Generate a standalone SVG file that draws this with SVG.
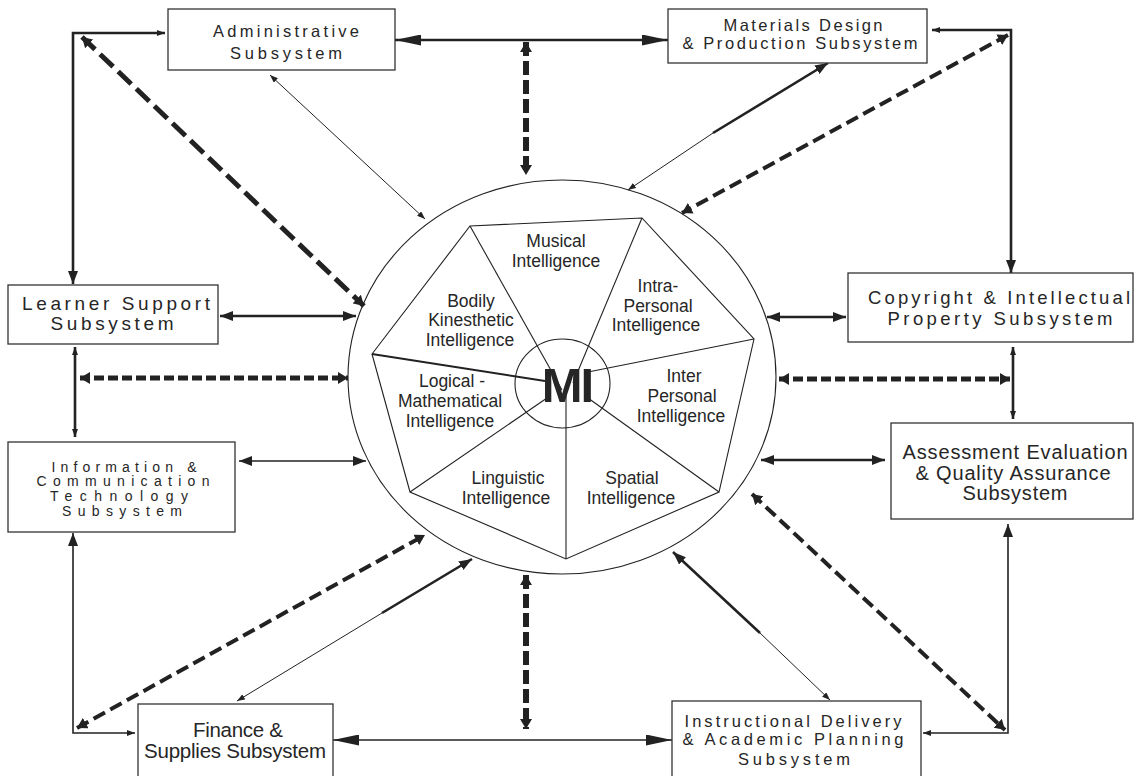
<svg xmlns="http://www.w3.org/2000/svg" width="1136" height="776" viewBox="0 0 1136 776">
<style>
text{font-family:"Liberation Sans",Arial,sans-serif;fill:#262626;}
.box{fill:#fff;stroke:#333;stroke-width:1.3;}
.lbl{font-size:17.5px;text-anchor:middle;}
.bt{text-anchor:middle;}
.c{fill:none;stroke:#222;}
.thin{stroke-width:1;}
.mid{stroke-width:1.6;}
.thk{stroke-width:2.6;}
.dA{stroke-width:5;stroke-dasharray:18 7;}
.dV{stroke-width:6;stroke-dasharray:14 5;}
.dH{stroke-width:5;stroke-dasharray:10 4;}
.dD{stroke-width:4;stroke-dasharray:13 6;}
</style>
<defs>
<marker id="big" markerUnits="userSpaceOnUse" markerWidth="26" markerHeight="11" viewBox="0 0 26 11" refX="26" refY="5.5" orient="auto-start-reverse"><path d="M0,0 L26,5.5 L0,11 z" fill="#222"/></marker>
<marker id="med" markerUnits="userSpaceOnUse" markerWidth="13" markerHeight="10" viewBox="0 0 13 10" refX="13" refY="5" orient="auto-start-reverse"><path d="M0,0 L13,5 L0,10 z" fill="#222"/></marker>
<marker id="sm" markerUnits="userSpaceOnUse" markerWidth="8" markerHeight="6" viewBox="0 0 8 6" refX="8" refY="3" orient="auto-start-reverse"><path d="M0,0 L8,3 L0,6 z" fill="#222"/></marker>
<marker id="dsh" markerUnits="userSpaceOnUse" markerWidth="10" markerHeight="12" viewBox="0 0 10 12" refX="10" refY="6" orient="auto-start-reverse"><path d="M0,0 L10,6 L0,12 z" fill="#222"/></marker>
</defs>
<rect width="1136" height="776" fill="#fff"/>

<g id="connectors">
<line class="c thk" x1="395" y1="40" x2="668" y2="40" marker-start="url(#big)" marker-end="url(#big)"/>
<line class="c dV" x1="526" y1="42" x2="526" y2="175" marker-start="url(#dsh)" marker-end="url(#dsh)"/>
<line class="c thin" x1="270" y1="75" x2="425" y2="219" marker-start="url(#sm)" marker-end="url(#sm)"/>
<polyline class="c thk" points="73,284 73,33 165,33" marker-start="url(#med)" marker-end="url(#sm)"/>
<line class="c dA" x1="82" y1="37" x2="364" y2="306" marker-start="url(#dsh)" marker-end="url(#dsh)"/>
<line class="c thin" x1="628" y1="190" x2="713" y2="133" marker-start="url(#sm)"/>
<line class="c thk" x1="713" y1="133" x2="828" y2="63" marker-end="url(#med)"/>
<polyline class="c thk" points="932,30 1011,30 1011,273" marker-start="url(#sm)" marker-end="url(#med)"/>
<line class="c dD" x1="1008" y1="35" x2="682" y2="213" marker-start="url(#dsh)" marker-end="url(#dsh)"/>
<line class="c thk" x1="220" y1="316" x2="356" y2="316" marker-start="url(#med)" marker-end="url(#med)"/>
<line class="c thk" x1="75" y1="347" x2="75" y2="437" marker-start="url(#sm)" marker-end="url(#sm)"/>
<line class="c dH" x1="80" y1="378" x2="348" y2="378" marker-start="url(#dsh)" marker-end="url(#dsh)"/>
<line class="c mid" x1="239" y1="461" x2="366" y2="461" marker-start="url(#med)" marker-end="url(#med)"/>
<polyline class="c mid" points="73,533 73,733 135,733" marker-start="url(#med)" marker-end="url(#sm)"/>
<line class="c dD" x1="77" y1="728" x2="425" y2="535" marker-start="url(#dsh)" marker-end="url(#dsh)"/>
<line class="c thin" x1="237" y1="701" x2="382" y2="613" marker-start="url(#sm)"/>
<line class="c thk" x1="382" y1="613" x2="472" y2="559" marker-end="url(#med)"/>
<line class="c dV" x1="526" y1="575" x2="526" y2="729" marker-start="url(#dsh)" marker-end="url(#dsh)"/>
<line class="c mid" x1="333" y1="740" x2="672" y2="740" marker-start="url(#big)" marker-end="url(#big)"/>
<line class="c thk" x1="760" y1="633" x2="673" y2="552" stroke-width="3.2" marker-end="url(#med)"/>
<line class="c thin" x1="760" y1="633" x2="830" y2="700" marker-end="url(#sm)"/>
<line class="c dD" x1="752" y1="494" x2="1005" y2="730" marker-start="url(#dsh)" marker-end="url(#dsh)"/>
<polyline class="c mid" points="1008,524 1008,733 923,733" marker-start="url(#med)" marker-end="url(#sm)"/>
<line class="c thk" x1="767" y1="317" x2="846" y2="317" marker-start="url(#med)" marker-end="url(#med)"/>
<line class="c thk" x1="1013" y1="347" x2="1013" y2="419" stroke-width="3" marker-start="url(#sm)" marker-end="url(#sm)"/>
<line class="c dH" x1="779" y1="379" x2="1010" y2="379" marker-start="url(#dsh)" marker-end="url(#dsh)"/>
<line class="c thk" x1="761" y1="460" x2="885" y2="460" stroke-width="2" marker-start="url(#med)" marker-end="url(#med)"/>
</g>

<g id="mi-core">
<ellipse cx="562" cy="377" rx="214" ry="197" fill="none" stroke="#222" stroke-width="1.1"/>
<polygon points="470,226 642,218 754,339 719,492 566,559 410,492 372,354" fill="none" stroke="#222" stroke-width="1.1"/>
<g stroke="#222" stroke-width="1.1">
<line x1="470" y1="226" x2="562" y2="390"/>
<line x1="642" y1="218" x2="573" y2="383"/>
<line x1="754" y1="339" x2="588" y2="372"/>
<line x1="719" y1="492" x2="588" y2="398"/>
<line x1="566" y1="559" x2="566" y2="395"/>
<line x1="410" y1="492" x2="547" y2="398"/>
<line x1="372" y1="354" x2="545" y2="381" stroke-width="2"/>
</g>
<ellipse cx="562.5" cy="383.5" rx="47.5" ry="44.5" fill="none" stroke="#222" stroke-width="1.1"/>
<text x="567" y="402" font-size="49" font-weight="bold" text-anchor="middle" letter-spacing="-2" fill="#1a1a1a">MI</text>
<text class="lbl"><tspan x="556" y="247">Musical</tspan><tspan x="556" y="267">Intelligence</tspan></text>
<text class="lbl"><tspan x="471" y="307">Bodily</tspan><tspan x="471" y="326">Kinesthetic</tspan><tspan x="470" y="346">Intelligence</tspan></text>
<text class="lbl"><tspan x="658" y="292">Intra-</tspan><tspan x="658" y="312">Personal</tspan><tspan x="656" y="331">Intelligence</tspan></text>
<text class="lbl"><tspan x="452" y="387">Logical -</tspan><tspan x="450" y="407">Mathematical</tspan><tspan x="450" y="427">Intelligence</tspan></text>
<text class="lbl"><tspan x="684" y="382">Inter</tspan><tspan x="682" y="402">Personal</tspan><tspan x="681" y="422">Intelligence</tspan></text>
<text class="lbl"><tspan x="508" y="484">Linguistic</tspan><tspan x="506" y="504">Intelligence</tspan></text>
<text class="lbl"><tspan x="632" y="484">Spatial</tspan><tspan x="631" y="504">Intelligence</tspan></text>
</g>

<g id="administrative">
<rect class="box" x="168" y="9" width="227" height="61"/>
<text class="bt" font-size="16.5"><tspan x="286" y="37" textLength="146" lengthAdjust="spacing">Administrative</tspan><tspan x="286" y="59" textLength="112" lengthAdjust="spacing">Subsystem</tspan></text>
</g>
<g id="materials">
<rect class="box" x="668" y="9" width="259" height="54"/>
<text class="bt" font-size="16.5"><tspan x="803" y="31" textLength="159" lengthAdjust="spacing">Materials Design</tspan><tspan x="800" y="49" textLength="235" lengthAdjust="spacing">&amp; Production Subsystem</tspan></text>
</g>
<g id="learner">
<rect class="box" x="8" y="285" width="210" height="59"/>
<text class="bt" font-size="19"><tspan x="116" y="310" textLength="188" lengthAdjust="spacing">Learner Support</tspan><tspan x="112" y="330" textLength="123" lengthAdjust="spacing">Subsystem</tspan></text>
</g>
<g id="ict">
<rect class="box" x="8" y="442" width="227" height="90"/>
<text class="bt" font-size="14"><tspan x="124" y="472" textLength="145" lengthAdjust="spacing">Information &amp;</tspan><tspan x="123" y="486" textLength="173" lengthAdjust="spacing">Communication</tspan><tspan x="119" y="501" textLength="138" lengthAdjust="spacing">Technology</tspan><tspan x="122" y="516" textLength="120" lengthAdjust="spacing">Subsystem</tspan></text>
</g>
<g id="finance">
<rect class="box" x="138" y="704" width="195" height="80"/>
<text class="bt" font-size="20.5"><tspan x="238" y="737" textLength="90" lengthAdjust="spacing">Finance &amp;</tspan><tspan x="235" y="758" textLength="182" lengthAdjust="spacing">Supplies Subsystem</tspan></text>
</g>
<g id="instructional">
<rect class="box" x="672" y="701" width="249" height="85"/>
<text class="bt" font-size="16.5"><tspan x="793" y="727" textLength="217" lengthAdjust="spacing">Instructional Delivery</tspan><tspan x="793" y="745" textLength="221" lengthAdjust="spacing">&amp; Academic Planning</tspan><tspan x="794" y="765" textLength="112" lengthAdjust="spacing">Subsystem</tspan></text>
</g>
<g id="copyright">
<rect class="box" x="848" y="273" width="285" height="69"/>
<text class="bt" font-size="18.5"><tspan x="999" y="304" textLength="262" lengthAdjust="spacing">Copyright &amp; Intellectual</tspan><tspan x="1000" y="325" textLength="225" lengthAdjust="spacing">Property Subsystem</tspan></text>
</g>
<g id="assessment">
<rect class="box" x="891" y="423" width="242" height="96"/>
<text class="bt" font-size="20"><tspan x="1015" y="459" textLength="225" lengthAdjust="spacing">Assessment Evaluation</tspan><tspan x="1013" y="480" textLength="195" lengthAdjust="spacing">&amp; Quality Assurance</tspan><tspan x="1015" y="500" textLength="105" lengthAdjust="spacing">Subsystem</tspan></text>
</g>
</svg>
